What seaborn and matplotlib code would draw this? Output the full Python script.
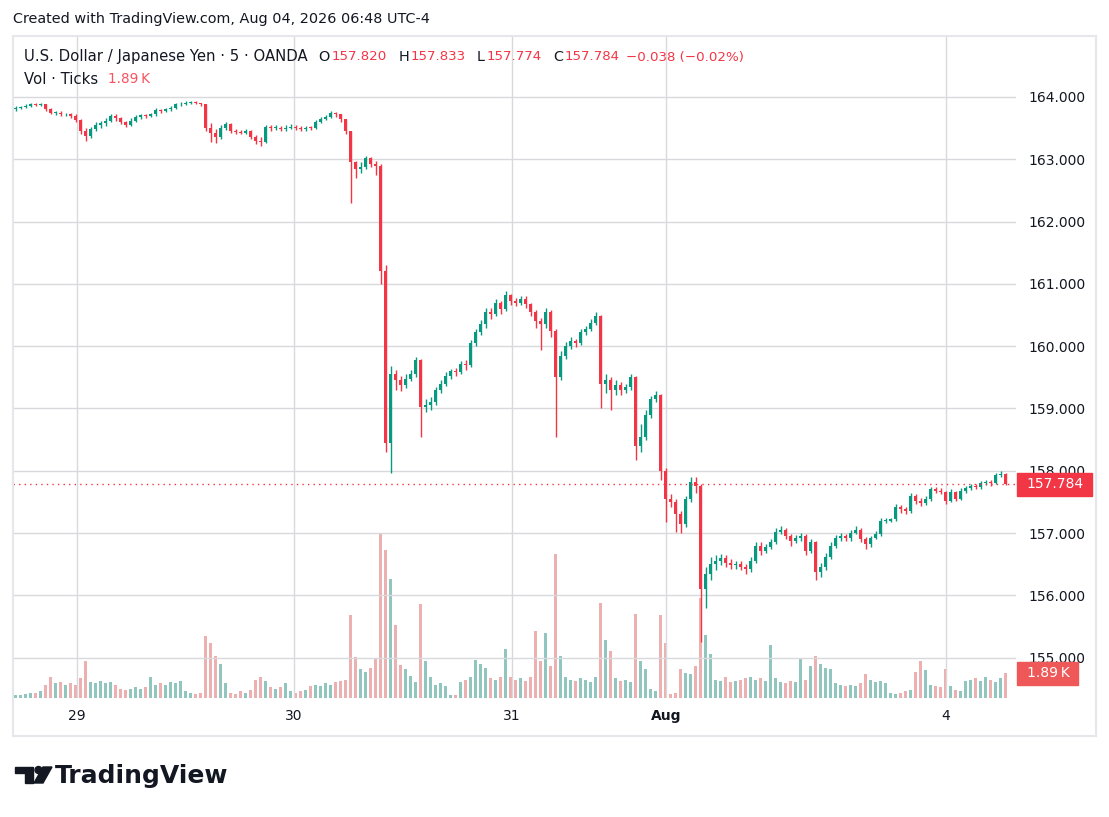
import numpy as np
import pandas as pd
import matplotlib
matplotlib.use("Agg")
import matplotlib.pyplot as plt
from matplotlib import patches, transforms
import seaborn as sns

# USD/JPY, each candle here stands for roughly 30 min of the 5-min chart
first_open = 163.80
closes = [163.82, 163.84, 163.86, 163.88, 163.87, 163.88, 163.80, 163.74, 163.75, 163.72,
          163.73, 163.70, 163.63, 163.45, 163.38, 163.48, 163.55, 163.58, 163.62, 163.70,
          163.66, 163.60, 163.55, 163.62, 163.68, 163.71, 163.70, 163.72, 163.79, 163.78,
          163.80, 163.82, 163.88, 163.89, 163.90, 163.91, 163.90, 163.88, 163.50, 163.42,
          163.35, 163.50, 163.56, 163.45, 163.44, 163.43, 163.45, 163.36, 163.30, 163.28,
          163.52, 163.50, 163.51, 163.49, 163.51, 163.52, 163.50, 163.49, 163.51, 163.50,
          163.60, 163.65, 163.68, 163.74, 163.72, 163.64, 163.45, 162.95, 162.85, 162.88,
          163.02, 162.92, 162.90, 161.20, 158.45, 159.55, 159.45, 159.37, 159.48, 159.55,
          159.78, 159.02, 159.05, 159.10, 159.30, 159.40, 159.52, 159.60, 159.58, 159.72,
          159.70, 160.05, 160.22, 160.35, 160.55, 160.52, 160.70, 160.60, 160.82, 160.72,
          160.70, 160.76, 160.68, 160.55, 160.40, 160.35, 160.55, 160.25, 159.50, 159.85,
          160.00, 160.08, 160.05, 160.22, 160.28, 160.38, 160.48, 159.40, 159.45, 159.30,
          159.38, 159.30, 159.35, 159.50, 158.40, 158.55, 158.90, 159.15, 159.22, 158.00,
          157.55, 157.50, 157.30, 157.15, 157.55, 157.82, 157.75, 156.10, 156.35, 156.50,
          156.55, 156.60, 156.52, 156.48, 156.50, 156.45, 156.42, 156.55, 156.80, 156.72,
          156.78, 156.85, 157.02, 157.05, 156.95, 156.88, 156.92, 156.95, 156.72, 156.85,
          156.38, 156.45, 156.62, 156.80, 156.92, 156.95, 156.92, 157.00, 157.05, 156.90,
          156.82, 156.92, 156.98, 157.20, 157.20, 157.22, 157.42, 157.38, 157.35, 157.60,
          157.52, 157.48, 157.55, 157.70, 157.68, 157.66, 157.52, 157.66, 157.55, 157.68,
          157.72, 157.75, 157.74, 157.80, 157.82, 157.80, 157.93, 157.95, 157.784]

highs = [163.85, 163.86, 163.88, 163.90, 163.90, 163.90, 163.89, 163.82, 163.78, 163.77,
         163.75, 163.75, 163.72, 163.65, 163.50, 163.52, 163.60, 163.62, 163.66, 163.73,
         163.72, 163.68, 163.62, 163.66, 163.71, 163.73, 163.73, 163.75, 163.82, 163.81,
         163.83, 163.85, 163.90, 163.92, 163.93, 163.93, 163.93, 163.91, 163.89, 163.58,
         163.48, 163.55, 163.60, 163.58, 163.48, 163.47, 163.48, 163.47, 163.39, 163.35,
         163.55, 163.55, 163.55, 163.54, 163.55, 163.56, 163.55, 163.53, 163.54, 163.54,
         163.63, 163.68, 163.71, 163.77, 163.76, 163.73, 163.65, 163.46, 162.98, 162.95,
         163.06, 163.04, 162.98, 162.93, 161.30, 159.68, 159.62, 159.52, 159.55, 159.62,
         159.82, 159.80, 159.15, 159.18, 159.35, 159.45, 159.58, 159.64, 159.65, 159.76,
         159.78, 160.10, 160.28, 160.42, 160.62, 160.62, 160.76, 160.72, 160.88, 160.84,
         160.78, 160.80, 160.80, 160.70, 160.58, 160.45, 160.62, 160.58, 160.28, 159.92,
         160.06, 160.14, 160.12, 160.27, 160.33, 160.44, 160.55, 160.50, 159.55, 159.50,
         159.45, 159.42, 159.40, 159.55, 159.52, 158.75, 158.98, 159.20, 159.28, 159.24,
         158.05, 157.62, 157.55, 157.35, 157.60, 157.90, 157.90, 157.78, 156.45, 156.62,
         156.65, 156.66, 156.65, 156.58, 156.56, 156.55, 156.50, 156.62, 156.86, 156.85,
         156.83, 156.90, 157.08, 157.12, 157.08, 156.98, 156.97, 157.00, 156.98, 156.90,
         156.88, 156.52, 156.68, 156.85, 156.97, 157.00, 156.99, 157.05, 157.12, 157.08,
         156.93, 156.96, 157.03, 157.25, 157.24, 157.25, 157.46, 157.45, 157.42, 157.64,
         157.63, 157.56, 157.60, 157.74, 157.74, 157.72, 157.68, 157.70, 157.68, 157.72,
         157.76, 157.79, 157.79, 157.84, 157.86, 157.86, 157.96, 157.99, 157.96]

lows = [163.78, 163.80, 163.82, 163.84, 163.85, 163.85, 163.78, 163.72, 163.71, 163.70,
        163.69, 163.67, 163.60, 163.40, 163.30, 163.34, 163.45, 163.50, 163.54, 163.60,
        163.62, 163.57, 163.52, 163.53, 163.60, 163.65, 163.67, 163.68, 163.70, 163.75,
        163.76, 163.78, 163.80, 163.86, 163.87, 163.88, 163.88, 163.85, 163.45, 163.28,
        163.26, 163.33, 163.47, 163.42, 163.41, 163.40, 163.40, 163.33, 163.24, 163.22,
        163.26, 163.46, 163.47, 163.46, 163.46, 163.48, 163.47, 163.46, 163.46, 163.47,
        163.48, 163.58, 163.63, 163.66, 163.68, 163.60, 163.40, 162.30, 162.70, 162.78,
        162.85, 162.88, 162.75, 161.00, 158.30, 157.97, 159.30, 159.28, 159.33, 159.44,
        159.50, 158.55, 158.95, 158.98, 159.05, 159.25, 159.36, 159.48, 159.52, 159.55,
        159.62, 159.66, 160.00, 160.18, 160.30, 160.44, 160.48, 160.52, 160.56, 160.66,
        160.64, 160.66, 160.62, 160.48, 160.30, 159.94, 160.30, 160.15, 158.55, 159.45,
        159.80, 159.95, 159.98, 160.02, 160.18, 160.25, 160.34, 159.00, 159.25, 158.98,
        159.22, 159.22, 159.25, 159.30, 158.18, 158.30, 158.50, 158.85, 159.10, 157.85,
        157.18, 157.42, 157.02, 157.00, 157.10, 157.50, 157.65, 155.25, 155.80, 156.25,
        156.40, 156.48, 156.46, 156.42, 156.42, 156.40, 156.35, 156.38, 156.52, 156.65,
        156.68, 156.74, 156.82, 156.98, 156.90, 156.80, 156.84, 156.88, 156.65, 156.68,
        156.25, 156.30, 156.40, 156.58, 156.76, 156.88, 156.88, 156.88, 156.98, 156.85,
        156.75, 156.78, 156.90, 156.95, 157.16, 157.18, 157.20, 157.33, 157.30, 157.32,
        157.46, 157.44, 157.45, 157.52, 157.64, 157.62, 157.46, 157.50, 157.52, 157.53,
        157.65, 157.69, 157.70, 157.71, 157.77, 157.76, 157.78, 157.90, 157.77]

# tick volume, thousands
volumes = [0.2, 0.2, 0.3, 0.4, 0.4, 0.5, 1.0, 1.6, 1.1, 1.2,
           1.0, 1.1, 1.0, 1.5, 2.8, 1.2, 1.1, 1.3, 1.1, 1.2,
           1.0, 0.7, 0.6, 0.7, 0.8, 0.7, 0.8, 1.6, 1.0, 1.1,
           1.0, 1.2, 1.1, 1.3, 0.5, 0.4, 0.3, 0.4, 4.7, 4.2,
           3.2, 2.6, 1.1, 0.4, 0.3, 0.5, 0.4, 0.6, 1.4, 1.6,
           1.3, 0.8, 0.7, 0.8, 1.1, 0.5, 0.4, 0.5, 0.6, 0.9,
           1.0, 0.9, 1.1, 1.0, 1.2, 1.3, 1.4, 6.3, 3.1, 2.2,
           2.0, 2.3, 3.0, 12.4, 11.2, 9.0, 5.5, 2.5, 2.2, 1.7,
           1.2, 7.1, 2.8, 1.6, 1.0, 1.1, 0.9, 0.2, 0.2, 1.2,
           1.4, 1.6, 2.9, 2.6, 2.3, 1.5, 1.4, 1.6, 3.7, 1.6,
           1.4, 1.5, 1.3, 1.6, 5.1, 2.8, 4.9, 2.4, 10.9, 3.2,
           1.6, 1.4, 1.3, 1.5, 1.4, 1.2, 1.6, 7.2, 4.4, 3.6,
           1.5, 1.3, 1.4, 1.2, 6.4, 2.8, 2.2, 0.7, 0.5, 6.3,
           4.2, 0.3, 0.4, 2.2, 1.9, 1.8, 2.4, 7.6, 4.8, 3.3,
           1.4, 1.3, 1.6, 1.2, 1.3, 1.4, 1.5, 1.6, 1.4, 1.5,
           1.3, 4.0, 1.5, 1.2, 1.1, 1.3, 1.2, 3.0, 1.4, 2.4,
           3.2, 2.6, 2.3, 2.2, 1.1, 1.0, 0.9, 1.0, 0.9, 1.1,
           1.8, 1.4, 1.2, 1.3, 1.1, 0.4, 0.3, 0.4, 0.5, 0.6,
           2.0, 2.8, 2.1, 1.0, 0.9, 0.8, 2.2, 0.9, 0.6, 0.5,
           1.3, 1.4, 1.5, 1.3, 1.6, 1.4, 1.2, 1.5, 1.89]

price_ticks = [155, 156, 157, 158, 159, 160, 161, 162, 163, 164]
day_labels = ["29", "30", "31", "Aug", "4"]
day_pos = [12.3, 55.7, 99.3, 130.1, 186.1]

legend_ohlc = ["157.820", "157.833", "157.774", "157.784"]
legend_change = "\u22120.038 (\u22120.02%)"
last_vol_text = "1.89\u2009K"

UP = "#089981"
DOWN = "#f23645"
TXT = "#131722"

df = pd.DataFrame({"close": closes, "high": highs, "low": lows, "volume": volumes})
df["idx"] = np.arange(len(df))
df["open"] = [first_open] + closes[:-1]
df["dir"] = np.where(df["close"] >= df["open"], "up", "down")

sns.set_theme(style="white")
plt.rcParams["font.family"] = ["DejaVu Sans"]

W, H = 1109, 817
fig = plt.figure(figsize=(W / 100, H / 100), dpi=100)
fig.patch.set_facecolor("white")


def rect(x0, y0, x1, y1):
    return [x0 / W, 1 - y1 / H, (x1 - x0) / W, (y1 - y0) / H]


# outer frame of the chart
fig.patches.append(patches.Rectangle((13 / W, 1 - 736 / H), (1096 - 13) / W, (736 - 36) / H,
                                     transform=fig.transFigure, fill=False,
                                     edgecolor="#e6e7ea", linewidth=1.5))

vol_ax = fig.add_axes(rect(13, 36, 1016, 698))
ax = fig.add_axes(rect(13, 36, 1016, 698))
ax.patch.set_visible(False)

# volume pane
sns.barplot(data=df, x="idx", y="volume", hue="dir", native_scale=True, dodge=False,
            palette={"up": "#88cfc5", "down": "#f6a6a6"}, width=0.62, errorbar=None,
            legend=False, linewidth=0, ax=vol_ax)
vol_ax.set_xlim(-0.5, 200.1)
vol_ax.set_ylim(0, 50.2)
vol_ax.axis("off")

# candles
colors = np.where(df["dir"] == "up", UP, DOWN)
body_lo = np.minimum(df["open"], df["close"])
body_h = np.maximum(np.abs(df["close"] - df["open"]), 0.012)
ax.vlines(df["idx"], df["low"], df["high"], colors=colors, linewidth=1.0, zorder=3)
ax.bar(df["idx"], body_h, bottom=body_lo, width=0.66, color=colors, linewidth=0, zorder=3)

ax.set_xlim(-0.5, 200.1)
ax.set_ylim(154.353, 164.979)
for s in ax.spines.values():
    s.set_visible(False)
ax.set_yticks(price_ticks)
ax.set_yticklabels([f"{v:.3f}" for v in price_ticks])
ax.yaxis.tick_right()
ax.set_xticks(day_pos)
ax.set_xticklabels(day_labels)
ax.get_xticklabels()[3].set_fontweight("bold")
ax.tick_params(axis="y", length=0, pad=8.6, labelsize=10, labelcolor=TXT)
ax.tick_params(axis="x", length=0, pad=8, labelsize=10, labelcolor=TXT)
ax.grid(True, color="#d8d9dc", linewidth=1)
ax.set_axisbelow(True)

last = closes[-1]
ax.axhline(last, color=DOWN, linestyle=(0, (1, 3)), linewidth=1, zorder=4)

# last price tag
bt = transforms.blended_transform_factory(ax.transAxes, ax.transData)
tag_h = 23 / 62.3
ax.add_patch(patches.Rectangle((1 + 1 / 1003, last - tag_h / 2), 75 / 1003, tag_h,
                               transform=bt, color=DOWN, clip_on=False, zorder=6))
ax.text(1 + 39 / 1003, last, f"{last:.3f}", transform=bt, ha="center", va="center",
        color="white", fontsize=10, zorder=7, clip_on=False)

# last volume tag
bv = transforms.blended_transform_factory(ax.transAxes, vol_ax.transData)
vtag_h = 23 / 13.2
ax.add_patch(patches.Rectangle((1 + 1 / 1003, volumes[-1] - vtag_h / 2), 61 / 1003, vtag_h,
                               transform=bv, color="#ef5858", clip_on=False, zorder=6))
ax.text(1 + 32 / 1003, volumes[-1], last_vol_text, transform=bv, ha="center", va="center",
        color="white", fontsize=10, zorder=7, clip_on=False)

# header texts
fig.text(13 / W, 1 - 19 / H, "Created with TradingView.com, Aug 04, 2026 06:48 UTC-4",
         color=TXT, fontsize=10.4, va="center", ha="left")


def draw_pieces(x, y, pieces):
    r = fig.canvas.get_renderer()
    for s, col, gap, size in pieces:
        t = fig.text(x / W, 1 - y / H, s, color=col, fontsize=size, va="center", ha="left")
        x = t.get_window_extent(renderer=r).x1 + gap


draw_pieces(24, 57, [("U.S. Dollar / Japanese Yen \u00b7 5 \u00b7 OANDA", TXT, 11, 10.7),
                     ("O", TXT, 2, 10.4), (legend_ohlc[0], DOWN, 11, 9.6),
                     ("H", TXT, 2, 10.4), (legend_ohlc[1], DOWN, 11, 9.6),
                     ("L", TXT, 2, 10.4), (legend_ohlc[2], DOWN, 11, 9.6),
                     ("C", TXT, 2, 10.4), (legend_ohlc[3], DOWN, 6, 9.6),
                     (legend_change, DOWN, 0, 9.6)])
draw_pieces(24, 79, [("Vol \u00b7 Ticks", TXT, 10, 10.7), (last_vol_text, "#f7525f", 0, 9.8)])


# TradingView logo
def P(x, y):
    return (x / W, 1 - y / H)


fig.patches.append(patches.Polygon([P(15, 767), P(33, 767), P(33, 783), P(25, 783), P(25, 773), P(15, 773)],
                                   closed=True, transform=fig.transFigure, color=TXT))
fig.patches.append(patches.Ellipse(P(38.5, 770), 7 / W, 7 / H, transform=fig.transFigure, color=TXT))
fig.patches.append(patches.Polygon([P(43, 767), P(52, 767), P(43, 783), P(34, 783)],
                                   closed=True, transform=fig.transFigure, color=TXT))
fig.text(55 / W, 1 - 783 / H, "TradingView", color=TXT, fontsize=18, fontweight="bold",
         family="DejaVu Sans", va="baseline", ha="left")

fig.savefig("out.png", dpi=100, facecolor="white")
